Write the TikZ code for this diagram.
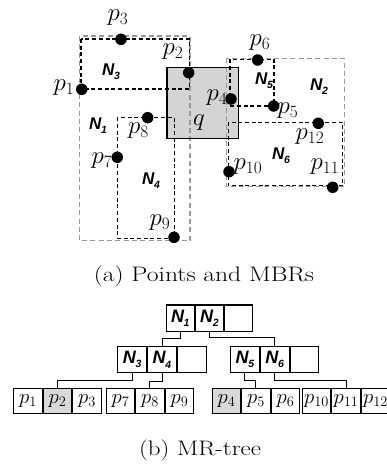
\documentclass[tikz,border=0pt]{standalone}
\usepackage{fontspec}
\newfontfamily\nfont{Liberation Sans}
\newcommand\nlabel[1]{N\kern-0.3pt\raisebox{-0.45ex}{\fontsize{10.5}{10.5}\selectfont#1}}
\tikzset{
  mbrin/.style={draw=black, line width=1.5pt, dash pattern=on 4pt off 2.7pt},
  mbrout/.style={draw=black!40, line width=1.2pt, dash pattern=on 5pt off 3.3pt},
  pt/.style={circle, fill=black, inner sep=0pt, minimum size=11.5pt},
  plab/.style={inner sep=0pt, font=\fontsize{23}{26}\selectfont},
  nlab/.style={inner sep=0pt, font=\nfont\bfseries\itshape\fontsize{17}{20}\selectfont},
  tlab/.style={font=\nfont\bfseries\itshape\fontsize{18}{20}\selectfont},
  cell/.style={draw, line width=1.1pt, inner sep=0pt, anchor=west},
  leaf/.style={cell, minimum width=28.4pt, minimum height=25pt, font=\fontsize{22}{24}\selectfont},
  mid/.style={cell, minimum width=28.7pt, minimum height=26pt},
  top/.style={cell, minimum width=28.1pt, minimum height=26.7pt},
  hit/.style={fill=black!15},
  link/.style={line width=1pt},
  caption/.style={inner sep=0pt, font=\fontsize{20}{24}\selectfont}
}
\begin{document}
\begin{tikzpicture}[x=1pt, y=-1pt]
\path[use as bounding box] (0,0) rectangle (387,464);

% ---- query window q ----
\fill[black!17] (167,67.3) rectangle (238.3,138.3);

% ---- MBRs ----
\draw[mbrout] (79.3,36) rectangle (190,240.7);     % N1
\draw[mbrout] (226.7,58.3) rectangle (344.3,186.7); % N2
\draw[mbrin] (81,39) rectangle (189.3,89);          % N3
\draw[mbrin] (117.3,117.3) rectangle (174.3,238.3); % N4
\draw[mbrin] (230,59.3) rectangle (274,106);        % N5
\draw[mbrin] (228.3,122.3) rectangle (342.7,185.7); % N6

\draw[line width=1.3pt] (167,67.3) rectangle (238.3,138.3);
\node[plab] (qlab) at (199,123) {$q$};

% ---- points ----
\node[pt] (P1)  at (81.7,89.3) {};
\node[pt] (P2)  at (188.7,72.7) {};
\node[pt] (P3)  at (121,39.3) {};
\node[pt] (P4)  at (231,99) {};
\node[pt] (P5)  at (273.7,106) {};
\node[pt] (P6)  at (257.7,60) {};
\node[pt] (P7)  at (117.3,157.3) {};
\node[pt] (P8)  at (147.7,117.7) {};
\node[pt] (P9)  at (174,237.3) {};
\node[pt] (P10) at (229,171.7) {};
\node[pt] (P11) at (332.7,187.3) {};
\node[pt] (P12) at (318.3,123.3) {};

\node[plab] (L1)  at (64,88)   {$p_1$};
\node[plab] (L2)  at (173,52)  {$p_2$};
\node[plab] (L3)  at (118,18)  {$p_3$};
\node[plab] (L4)  at (217,98)  {$p_4$};
\node[plab] (L5)  at (288,111) {$p_5$};
\node[plab] (L6)  at (260,43)  {$p_6$};
\node[plab] (L7)  at (102,161) {$p_7$};
\node[plab] (L8)  at (138.5,131) {$p_8$};
\node[plab] (L9)  at (160,223) {$p_9$};
\node[plab] (L10) at (248,167) {$p_{10}$};
\node[plab] (L11) at (325,167) {$p_{11}$};
\node[plab] (L12) at (310,137) {$p_{12}$};

\node[nlab] (M1) at (98,126)  {\nlabel{1}};
\node[nlab] (M2) at (319,87)  {\nlabel{2}};
\node[nlab] (M3) at (111,72)  {\nlabel{3}};
\node[nlab] (M4) at (151,181) {\nlabel{4}};
\node[nlab] (M5) at (264,81)  {\nlabel{5}};
\node[nlab] (M6) at (281,156) {\nlabel{6}};

\node[caption] (capa) at (204,276.7) {\scalebox{1.28}[1.05]{(a) Points and MBRs}};

% ---- MR-tree ----
% root
\node[top, tlab] (r1) at (165.7,318.3) {\nlabel{1}};
\node[top, tlab] (r2) at (r1.east) {\nlabel{2}};
\node[top] (r0) at (r2.east) {};
% level 2
\node[mid, tlab] (n3) at (117.3,359.7) {\nlabel{3}};
\node[mid, tlab] (n4) at (n3.east) {\nlabel{4}};
\node[mid] (e1) at (n4.east) {};
\node[mid, tlab] (n5) at (230,359.7) {\nlabel{5}};
\node[mid, tlab] (n6) at (n5.east) {\nlabel{6}};
\node[mid] (e2) at (n6.east) {};
% leaves
\node[leaf] (c1) at (13.3,400.8) {$p_1$};
\node[leaf, hit] (c2) at (c1.east) {$p_2$};
\node[leaf] (c3) at (c2.east) {$p_3$};
\node[leaf] (c7) at (105.7,400.8) {$p_7$};
\node[leaf] (c8) at (c7.east) {$p_8$};
\node[leaf] (c9) at (c8.east) {$p_9$};
\node[leaf, hit] (c4) at (211.7,400.8) {$p_4$};
\node[leaf] (c5) at (c4.east) {$p_5$};
\node[leaf] (c6) at (c5.east) {$p_6$};
\node[leaf] (c10) at (301.8,400.8) {$p_{10}$};
\node[leaf] (c11) at (c10.east) {$p_{11}$};
\node[leaf] (c12) at (c11.east) {$p_{12}$};

% entry points of the child nodes
\coordinate (gL) at (n4.north);
\coordinate (gR) at (n6.north);
\coordinate (g1) at (c2.north);
\coordinate (g2) at (c8.north);
\coordinate (g3) at (c5.north);
\coordinate (g4) at (c11.north);

\draw[link] (r1.south) -- ++(0,6.6) -| (gL);
\draw[link] (r2.south) -- ++(0,5) -| (gR);
\draw[link] (n3.south) -- ++(0,7.6) -| (g1);
\draw[link] (n4.south) -- ++(0,8) -| (g2);
\draw[link] (n5.south) -- ++(0,7.4) -| (g3);
\draw[link] (n6.south) -- ++(0,7.4) -| (g4);

\node[caption] (capb) at (200,450.5) {\scalebox{1.25}[1.05]{(b) MR-tree}};
\end{tikzpicture}
\end{document}
